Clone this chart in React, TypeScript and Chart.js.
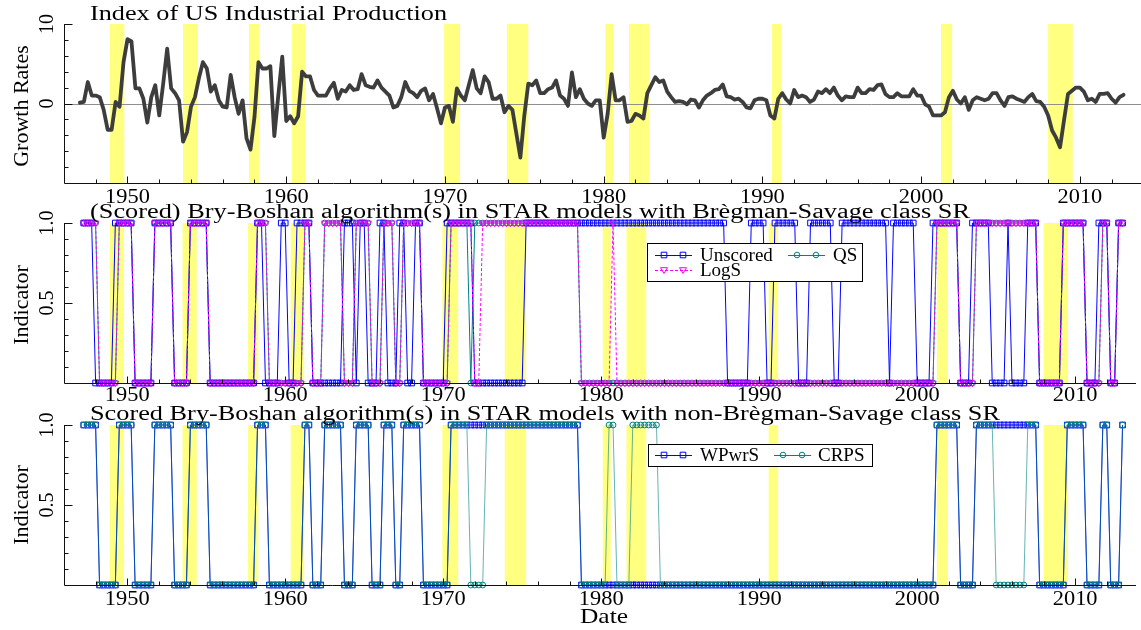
import React, { useEffect, useRef } from "react";
import { Chart, registerables } from "chart.js";

Chart.register(...registerables);

const W = 1141;
const H = 630;
const SERIF = "'Liberation Serif', 'Times New Roman', Times, serif";

// ---------------- DATA ----------------
// Quarterly growth rates of the US industrial production index, 1947Q1 .. 2012Q4
const FIRST_QUARTER = 1947.0;
const growthRates: number[] = [
  0.1, 0.2, 2.7, 1.0, // 1947
  1.0, 0.8, -0.8, -3.3, // 1948
  -3.3, 0.2, -0.4, 5.2, // 1949
  8.1, 7.8, 1.9, 1.9, // 1950
  0.6, -2.4, 0.8, 2.3, // 1951
  -1.5, 2.5, 6.9, 1.9, // 1952
  1.3, 0.4, -4.8, -3.6, // 1953
  -0.4, 0.8, 3.2, 5.2, // 1954
  4.4, 1.5, 2.3, 0.4, // 1955
  -0.4, -0.5, 3.6, 0.8, // 1956
  -1.3, 0.4, -4.4, -5.8, // 1957
  -1.7, 5.2, 4.4, 4.4, // 1958
  4.7, -4.1, 1.0, 5.9, // 1959
  -2.2, -1.6, -2.5, -1.6, // 1960
  4.0, 3.4, 3.4, 1.7, // 1961
  1.0, 1.0, 1.0, 1.9, // 1962
  2.6, 0.6, 1.7, 1.5, // 1963
  2.3, 1.7, 1.8, 3.7, // 1964
  2.3, 2.1, 2.0, 2.9, // 1965
  2.0, 1.5, 1.0, -0.5, // 1966
  -0.3, 0.8, 2.7, 1.6, // 1967
  1.3, 0.8, 1.6, 1.9, // 1968
  0.4, 1.2, -0.6, -2.5, // 1969
  -0.5, -0.3, -2.3, 1.9, // 1970
  1.0, 0.4, 2.3, 4.2, // 1971
  1.9, 1.3, 3.4, 2.7, // 1972
  0.6, 0.6, 1.0, -1.1, // 1973
  -0.3, -0.8, -3.8, -6.8, // 1974
  -1.5, 2.5, 2.3, 2.9, // 1975
  1.3, 1.3, 1.8, 2.0, // 1976
  2.9, 1.0, 0.6, -0.3, // 1977
  3.9, 0.8, 1.8, 0.6, // 1978
  0.0, -0.3, 0.4, 0.4, // 1979
  -4.3, -1.3, 3.7, 0.4, // 1980
  0.4, 0.8, -2.3, -2.2, // 1981
  -1.3, -1.5, -1.9, 1.3, // 1982
  2.3, 3.3, 2.7, 2.9, // 1983
  1.5, 0.8, 0.2, 0.3, // 1984
  0.2, -0.1, 0.5, 0.4, // 1985
  -0.5, 0.4, 1.0, 1.3, // 1986
  1.7, 1.8, 2.4, 0.9, // 1987
  0.8, 0.5, 0.6, 0.2, // 1988
  -0.5, -0.6, 0.4, 0.6, // 1989
  0.6, 0.4, -1.5, -1.9, // 1990
  0.6, 1.3, 0.5, 0.0, // 1991
  1.7, 0.8, 1.0, 0.8, // 1992
  0.2, 0.5, 1.5, 1.3, // 1993
  1.8, 1.3, 2.0, 1.0, // 1994
  0.4, 0.9, 0.8, 0.8, // 1995
  2.0, 1.3, 1.3, 1.8, // 1996
  1.7, 2.3, 2.4, 1.2, // 1997
  0.8, 0.8, 1.3, 0.9, // 1998
  0.9, 0.9, 1.8, 1.0, // 1999
  1.0, -0.1, -0.4, -1.5, // 2000
  -1.5, -1.5, -1.1, 0.8, // 2001
  1.6, 0.5, 0.0, 0.8, // 2002
  -0.8, 0.4, 0.8, 0.6, // 2003
  0.4, 0.6, 1.3, 1.3, // 2004
  0.4, -0.3, 0.8, 0.9, // 2005
  0.6, 0.4, 0.2, 0.8, // 2006
  1.2, 0.3, 0.2, -0.4, // 2007
  -1.5, -3.4, -4.3, -5.5, // 2008
  -2.1, 1.2, 1.6, 2.0, // 2009
  2.0, 1.5, 0.4, 0.6, // 2010
  0.2, 1.2, 1.2, 1.3, // 2011
  0.6, 0.1, 0.8, 1.1, // 2012
];

// NBER recession periods (shaded)
const recessions: [number, number][] = [
  [1948.9, 1949.8], [1953.5, 1954.4], [1957.65, 1958.3], [1960.35, 1961.2],
  [1969.95, 1970.95], [1973.9, 1975.25], [1980.1, 1980.6], [1981.6, 1982.85],
  [1990.6, 1991.2], [2001.25, 2001.95], [2008.0, 2009.55],
];

// Indicator series are quarterly from 1947Q2 to 2013Q1
const INDICATOR_FIRST = 1947.25;
const INDICATOR_LAST = 2013.0;

// Quarters (first, last) where each indicator equals 1
const unscoredOn: [number, number][] = [
  [1947.25, 1947.75], [1949.25, 1950.25], [1951.75, 1952.75], [1954.0, 1955.0],
  [1958.25, 1958.5], [1959.75, 1960.0], [1960.75, 1961.5], [1963.75, 1964.25],
  [1964.75, 1965.0], [1966.0, 1966.25], [1967.25, 1967.5], [1968.25, 1968.5],
  [1970.25, 1971.75], [1975.25, 1987.75], [1989.5, 1990.25], [1991.0, 1992.25],
  [1993.25, 1994.5], [1995.25, 1998.0], [1998.5, 1999.75], [2001.0, 2002.5],
  [2003.5, 2004.5], [2005.75, 2005.75], [2007.0, 2007.5], [2009.25, 2010.5],
  [2011.5, 2012.0], [2012.75, 2013.0],
];
const logSOn: [number, number][] = [
  [1947.25, 1948.0], [1949.5, 1950.25], [1951.75, 1952.75], [1954.0, 1955.0],
  [1958.25, 1958.75], [1961.25, 1961.5], [1962.5, 1963.5], [1964.5, 1965.25],
  [1966.25, 1966.75], [1967.5, 1968.5], [1970.5, 1971.75], [1972.5, 1978.5],
  [1980.75, 1980.75], [2001.25, 2002.5], [2003.75, 2007.5], [2009.25, 2010.5],
  [2011.75, 2012.0], [2012.75, 2013.0],
];
const qsOn: [number, number][] = [
  [1947.25, 1948.0], [1949.5, 1950.25], [1951.75, 1952.75], [1954.0, 1955.0],
  [1958.25, 1958.75], [1961.25, 1961.5], [1962.5, 1963.5], [1964.5, 1965.25],
  [1966.25, 1966.75], [1967.5, 1968.5], [1970.5, 1971.5], [1972.0, 1978.5],
  [2001.25, 2002.5], [2003.75, 2007.5], [2009.25, 2010.5], [2011.75, 2012.0],
  [2012.75, 2013.0],
];
const wpwrsOn: [number, number][] = [
  [1947.25, 1948.0], [1949.5, 1950.25], [1951.75, 1952.75], [1954.0, 1955.0],
  [1958.25, 1958.75], [1961.25, 1961.5], [1962.5, 1963.5], [1964.5, 1965.25],
  [1966.25, 1966.75], [1967.5, 1968.5], [1970.5, 1978.5], [2001.25, 2002.5],
  [2003.75, 2007.5], [2009.5, 2010.5], [2011.75, 2012.0], [2013.0, 2013.0],
];
const crpsOn: [number, number][] = [
  [1947.25, 1948.0], [1949.5, 1950.25], [1951.75, 1952.75], [1954.0, 1955.0],
  [1958.25, 1958.75], [1961.25, 1961.5], [1962.5, 1963.5], [1964.5, 1965.25],
  [1966.25, 1966.75], [1967.5, 1968.5], [1970.5, 1971.5], [1972.75, 1978.5],
  [1980.5, 1980.75], [1982.0, 1983.5], [2001.25, 2002.5], [2003.75, 2004.75],
  [2007.0, 2007.5], [2009.5, 2010.5], [2011.75, 2012.0], [2013.0, 2013.0],
];

const decadeTicks = [1950, 1960, 1970, 1980, 1990, 2000, 2010];
const decadeLabels = ["1950", "1960", "1970", "1980", "1990", "2000", "2010"];
const growthTickValues = [10, 0];
const growthTickLabels = ["10", "0"];
const indicatorTickValues = [1, 0.5];
const indicatorTickLabels = ["1.0", "0.5"];

// ---------------- HELPERS ----------------
const quarterDates = growthRates.map((_, i) => FIRST_QUARTER + i / 4);
const growthPoints = growthRates.map((v, i) => ({ x: quarterDates[i], y: v }));
const indicatorDates: number[] = [];
for (let q = INDICATOR_FIRST * 4; q <= INDICATOR_LAST * 4 + 1e-6; q++) indicatorDates.push(q / 4);
function indicatorSeries(on: [number, number][]) {
  return indicatorDates.map((d) => ({
    x: d,
    y: on.some(([a, b]) => d >= a - 1e-6 && d <= b + 1e-6) ? 1 : 0,
  }));
}

const BLUE = "rgb(0,0,255)";
const MAGENTA = "rgb(255,0,255)";
const TEAL = "rgb(0,128,128)";
const CLEAR = "rgba(0,0,0,0)";

type Marker = "rect" | "circle" | "tri";
interface LegendItem { label: string; color: string; marker: Marker; dash: number[]; lx: number; ly: number; tx: number; }
interface PanelSpec {
  top: number; bottom: number; yMin: number; yMax: number;
  datasets: any[];
  zeroLine: boolean;
  yMajor: number[]; yMajorLabels: string[]; yMinor: number[];
  title: string; titleY: number; titleW: number;
  yTitle: string; yTitleCy: number;
  xLabelY: number;
  legend: null | { box: [number, number, number, number]; items: LegendItem[] };
  dateLabel: boolean;
}

function drawText(ctx: CanvasRenderingContext2D, s: string, x: number, y: number, size: number,
  opts: { align?: CanvasTextAlign; sx?: number; rotate?: boolean; fitW?: number } = {}) {
  ctx.save();
  ctx.font = `${size}px ${SERIF}`;
  ctx.fillStyle = "#000";
  ctx.textBaseline = "alphabetic";
  ctx.textAlign = opts.align ?? "left";
  let sx = opts.sx ?? 1;
  if (opts.fitW) sx = opts.fitW / ctx.measureText(s).width;
  ctx.translate(x, y);
  if (opts.rotate) ctx.rotate(-Math.PI / 2);
  ctx.scale(sx, 1);
  ctx.fillText(s, 0, 0);
  ctx.restore();
}

function drawMarker(ctx: CanvasRenderingContext2D, m: Marker, x: number, y: number, color: string) {
  ctx.save();
  ctx.strokeStyle = color;
  ctx.lineWidth = 1;
  ctx.setLineDash([]);
  ctx.beginPath();
  if (m === "rect") ctx.rect(x - 2.8, y - 2.8, 5.6, 5.6);
  else if (m === "circle") ctx.arc(x, y, 2.8, 0, Math.PI * 2);
  else { ctx.moveTo(x - 3.5, y - 2.3); ctx.lineTo(x + 3.5, y - 2.3); ctx.lineTo(x, y + 3.5); ctx.closePath(); }
  ctx.stroke();
  ctx.restore();
}

function decorPlugin(spec: PanelSpec) {
  return {
    id: "decor",
    beforeDatasetsDraw(chart: any) {
      const { ctx, chartArea: ca, scales } = chart;
      const xs = scales.x, ys = scales.y;
      ctx.save();
      ctx.fillStyle = "rgb(255,255,128)";
      for (const [a, b] of recessions) {
        const x0 = xs.getPixelForValue(a), x1 = xs.getPixelForValue(b);
        ctx.fillRect(x0, ca.top, x1 - x0, ca.bottom - ca.top);
      }
      if (spec.zeroLine) {
        const y0 = Math.round(ys.getPixelForValue(0)) + 0.5;
        ctx.strokeStyle = "#8f8f8f";
        ctx.lineWidth = 1;
        ctx.beginPath();
        ctx.moveTo(ca.left, y0);
        ctx.lineTo(ca.right, y0);
        ctx.stroke();
      }
      ctx.restore();
    },
    afterDatasetsDraw(chart: any) {
      const { ctx, chartArea: ca, scales } = chart;
      const xs = scales.x, ys = scales.y;
      ctx.save();
      ctx.strokeStyle = "#111";
      ctx.lineWidth = 1;
      const L = Math.round(ca.left) + 0.5, B = Math.round(ca.bottom) + 0.5;
      ctx.beginPath();
      ctx.moveTo(L, ca.top);
      ctx.lineTo(L, B);
      ctx.lineTo(ca.right, B);
      // x ticks (inward)
      for (let yr = 1948; yr <= 2012; yr += 2) {
        const px = Math.round(xs.getPixelForValue(yr)) + 0.5;
        const len = yr % 10 === 0 ? 7 : 4;
        ctx.moveTo(px, B);
        ctx.lineTo(px, B - len);
      }
      // y ticks (inward)
      for (const v of spec.yMinor) {
        const py = Math.round(ys.getPixelForValue(v)) + 0.5;
        ctx.moveTo(L, py); ctx.lineTo(L + 4, py);
      }
      for (const v of spec.yMajor) {
        const py = Math.round(ys.getPixelForValue(v)) + 0.5;
        ctx.moveTo(L, py); ctx.lineTo(L + 8, py);
      }
      ctx.stroke();
      ctx.restore();

      // x labels
      decadeTicks.forEach((yr, i) => {
        drawText(ctx, decadeLabels[i], xs.getPixelForValue(yr), spec.xLabelY, 20, { align: "center", sx: 1.12 });
      });
      // y labels (rotated)
      spec.yMajor.forEach((v, i) => {
        drawText(ctx, spec.yMajorLabels[i], 53, ys.getPixelForValue(v), 20, { align: "center", rotate: true });
      });
      // titles
      drawText(ctx, spec.title, 90, spec.titleY, 20, { fitW: spec.titleW });
      drawText(ctx, spec.yTitle, 28, spec.yTitleCy, 22, { align: "center", rotate: true });
      if (spec.dateLabel) drawText(ctx, "Date", 604, 623, 22, { align: "center", fitW: 48 });

      // legend
      if (spec.legend) {
        const [bx, by, bw, bh] = spec.legend.box;
        ctx.save();
        ctx.fillStyle = "#fff";
        ctx.fillRect(bx, by, bw, bh);
        ctx.strokeStyle = "#000";
        ctx.lineWidth = 1;
        ctx.strokeRect(bx + 0.5, by + 0.5, bw, bh);
        ctx.restore();
        for (const it of spec.legend.items) {
          ctx.save();
          ctx.strokeStyle = it.color;
          ctx.lineWidth = 1;
          ctx.setLineDash(it.dash);
          ctx.beginPath();
          ctx.moveTo(it.lx, it.ly + 0.5);
          ctx.lineTo(it.lx + 37, it.ly + 0.5);
          ctx.stroke();
          ctx.restore();
          drawMarker(ctx, it.marker, it.lx + 9, it.ly, it.color);
          drawMarker(ctx, it.marker, it.lx + 28, it.ly, it.color);
          drawText(ctx, it.label, it.tx, it.ly + 6, 19);
        }
      }
    },
  };
}

function indicatorDataset(label: string, on: [number, number][], color: string, marker: Marker,
  order: number, dash: number[] = [], lineColor?: string) {
  return {
    label,
    data: indicatorSeries(on),
    borderColor: lineColor ?? color,
    borderWidth: 1,
    borderDash: dash,
    pointStyle: marker === "rect" ? "rect" : marker === "circle" ? "circle" : "triangle",
    pointRotation: marker === "tri" ? 180 : 0,
    pointRadius: marker === "rect" ? 4 : marker === "circle" ? 2.9 : 3.7,
    pointBorderColor: color,
    pointBackgroundColor: CLEAR,
    pointBorderWidth: 1,
    fill: false,
    tension: 0,
    clip: false,
    order,
  };
}

const panels: PanelSpec[] = [
  {
    top: 24, bottom: 183, yMin: -10, yMax: 10,
    datasets: [{
      label: "Growth Rates",
      data: growthPoints,
      borderColor: "#3d3d3d",
      borderWidth: 3.8,
      borderJoinStyle: "round",
      borderCapStyle: "round",
      pointRadius: 0,
      fill: false,
      tension: 0,
    }],
    zeroLine: true,
    yMajor: growthTickValues, yMajorLabels: growthTickLabels,
    yMinor: [-8, -6, -4, -2, 2, 4, 6, 8],
    title: "Index of US Industrial Production", titleY: 20, titleW: 357,
    yTitle: "Growth Rates", yTitleCy: 106,
    xLabelY: 203,
    legend: null,
    dateLabel: false,
  },
  {
    top: 223, bottom: 383, yMin: 0, yMax: 1,
    datasets: [
      indicatorDataset("LogS", logSOn, MAGENTA, "tri", 0, [3, 2]),
      indicatorDataset("Unscored", unscoredOn, BLUE, "rect", 1),
      indicatorDataset("QS", qsOn, TEAL, "circle", 2),
    ],
    zeroLine: false,
    yMajor: indicatorTickValues, yMajorLabels: indicatorTickLabels,
    yMinor: [0.1, 0.2, 0.3, 0.4, 0.6, 0.7, 0.8, 0.9],
    title: "(Scored) Bry-Boshan algorithm(s) in STAR models with Brègman-Savage class SR",
    titleY: 218, titleW: 880,
    yTitle: "Indicator", yTitleCy: 305,
    xLabelY: 401,
    legend: {
      box: [647, 243, 215, 38],
      items: [
        { label: "Unscored", color: BLUE, marker: "rect", dash: [], lx: 655, ly: 255, tx: 700 },
        { label: "QS", color: TEAL, marker: "circle", dash: [], lx: 788, ly: 255, tx: 833 },
        { label: "LogS", color: MAGENTA, marker: "tri", dash: [3, 2], lx: 655, ly: 270, tx: 700 },
      ],
    },
    dateLabel: false,
  },
  {
    top: 425, bottom: 585, yMin: 0, yMax: 1,
    datasets: [
      indicatorDataset("CRPS", crpsOn, TEAL, "circle", 0, [], "rgba(0,128,128,0.6)"),
      indicatorDataset("WPwrS", wpwrsOn, BLUE, "rect", 1),
    ],
    zeroLine: false,
    yMajor: indicatorTickValues, yMajorLabels: indicatorTickLabels,
    yMinor: [0.1, 0.2, 0.3, 0.4, 0.6, 0.7, 0.8, 0.9],
    title: "Scored Bry-Boshan algorithm(s) in STAR models with non-Brègman-Savage class SR",
    titleY: 420, titleW: 910,
    yTitle: "Indicator", yTitleCy: 505,
    xLabelY: 605,
    legend: {
      box: [648, 444, 224, 22],
      items: [
        { label: "WPwrS", color: BLUE, marker: "rect", dash: [], lx: 655, ly: 455, tx: 700 },
        { label: "CRPS", color: TEAL, marker: "circle", dash: [], lx: 774, ly: 455, tx: 818 },
      ],
    },
    dateLabel: true,
  },
];

function makeChart(canvas: HTMLCanvasElement, spec: PanelSpec) {
  return new Chart(canvas, {
    type: "line",
    data: { datasets: spec.datasets },
    options: {
      responsive: false,
      animation: false,
      events: [],
      layout: { padding: { left: 64, right: 0, top: spec.top, bottom: H - spec.bottom } },
      scales: {
        x: { type: "linear", min: 1946, max: 2013.85, display: false },
        y: { type: "linear", min: spec.yMin, max: spec.yMax, display: false },
      },
      plugins: { legend: { display: false }, tooltip: { enabled: false } },
    } as any,
    plugins: [decorPlugin(spec) as any],
  });
}

export default function App() {
  const refs = useRef<(HTMLCanvasElement | null)[]>([]);
  useEffect(() => {
    const charts = panels.map((p, i) => makeChart(refs.current[i]!, p));
    return () => charts.forEach((c) => c.destroy());
  }, []);
  return (
    <div style={{ position: "absolute", left: 0, top: 0, width: W, height: H, background: "#fff", overflow: "hidden" }}>
      {panels.map((_, i) => (
        <canvas
          key={i}
          ref={(el) => { refs.current[i] = el; }}
          width={W}
          height={H}
          style={{ position: "absolute", left: 0, top: 0, width: W, height: H }}
        />
      ))}
    </div>
  );
}
